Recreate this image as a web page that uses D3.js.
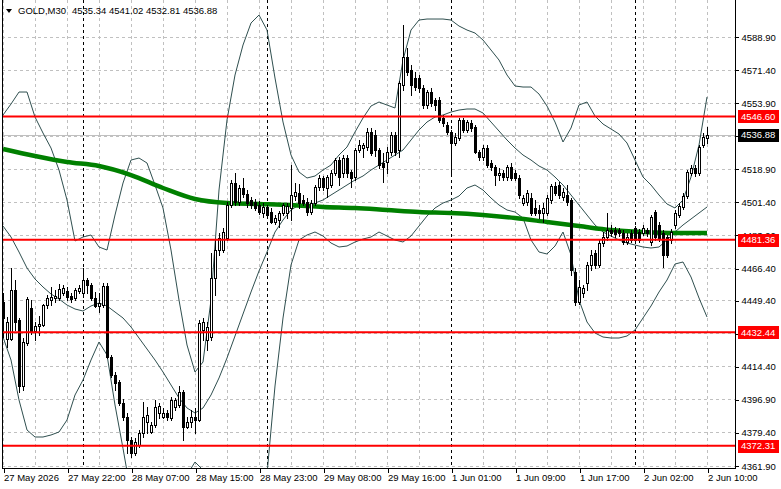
<!DOCTYPE html>
<html><head><meta charset="utf-8">
<script src="https://cdn.jsdelivr.net/npm/d3@7"></script>
<style>
html,body{margin:0;padding:0;background:#fff;}
svg{display:block;font-family:"Liberation Sans",Arial,sans-serif;}
</style></head><body>
<svg id="c" width="781" height="489"></svg>
<script>
const symbol = "GOLD,M30";
const headerOHLC = [4535.34, 4541.02, 4532.81, 4536.88];

const opens = [4448.4,4428.8,4428.8,4454.8,4438.9,4404.0,4426.7,4445.2,4433.1,4435.7,4436.2,4446.8,4449.5,4450.5,4450.5,4453.2,4454.2,4451.6,4450.5,4454.2,4453.2,4460.1,4457.4,4450.5,4446.3,4446.8,4456.9,4419.3,4409.8,4406.1,4395.0,4387.6,4375.4,4368.5,4372.7,4379.1,4384.9,4379.6,4383.3,4389.7,4387.6,4389.7,4387.0,4392.9,4393.9,4400.8,4382.3,4384.9,4387.6,4386.0,4433.6,4428.3,4429.9,4461.1,4475.9,4475.9,4482.3,4499.7,4511.4,4501.3,4508.7,4505.6,4502.4,4501.3,4499.7,4495.5,4498.7,4496.0,4490.7,4491.8,4495.5,4495.5,4498.2,4504.5,4506.1,4502.4,4501.3,4496.0,4500.8,4509.3,4514.0,4508.7,4510.3,4516.7,4523.5,4516.7,4524.6,4517.2,4514.6,4528.8,4529.9,4530.4,4538.4,4536.8,4528.8,4522.0,4522.5,4527.8,4536.8,4528.8,4563.2,4578.0,4571.2,4566.9,4566.9,4561.6,4552.6,4559.5,4555.3,4555.3,4545.8,4542.1,4538.4,4532.5,4535.2,4544.7,4539.4,4543.1,4541.0,4527.8,4525.1,4529.9,4522.0,4519.8,4515.6,4516.7,4514.6,4519.8,4516.7,4514.0,4500.8,4501.3,4503.4,4498.2,4497.1,4495.5,4495.5,4502.4,4509.8,4510.3,4504.0,4505.0,4502.4,4464.3,4448.4,4453.2,4458.5,4468.0,4474.3,4468.0,4479.6,4482.8,4486.5,4486.5,4486.5,4484.9,4480.2,4484.9,4487.6,4485.4,4484.9,4486.5,4480.2,4496.0,4489.2,4484.9,4482.8,4481.2,4489.2,4494.4,4498.7,4504.5,4516.7,4519.3,4516.7,4531.5,4535.34];
const highs = [4453.2,4440.5,4466.4,4460.1,4439.9,4429.4,4451.1,4449.5,4437.8,4441.0,4447.4,4452.1,4456.3,4454.8,4457.9,4457.4,4456.3,4453.2,4455.8,4457.4,4466.4,4461.1,4458.5,4453.7,4453.2,4458.5,4458.5,4420.4,4411.4,4407.1,4397.1,4389.7,4377.0,4376.4,4380.7,4395.5,4392.9,4384.9,4396.6,4395.0,4392.3,4391.3,4398.2,4397.6,4404.0,4401.9,4387.6,4391.3,4392.3,4438.9,4439.9,4437.8,4474.3,4481.2,4484.9,4487.6,4501.3,4513.0,4516.7,4510.3,4514.0,4507.7,4504.0,4502.9,4501.9,4500.8,4499.7,4498.2,4494.4,4496.6,4500.8,4500.8,4520.9,4511.4,4510.8,4505.0,4503.4,4502.4,4510.3,4515.6,4515.1,4515.6,4518.2,4524.6,4525.1,4526.2,4526.2,4518.2,4529.9,4534.1,4532.5,4540.5,4540.5,4539.4,4529.9,4527.2,4530.4,4538.4,4538.4,4565.3,4595.0,4582.8,4573.8,4570.1,4568.5,4563.2,4560.6,4561.6,4556.4,4556.9,4547.4,4543.7,4539.4,4537.8,4545.8,4545.8,4544.7,4544.7,4542.1,4528.8,4531.5,4531.5,4523.5,4520.9,4519.3,4518.3,4520.9,4522.0,4518.3,4515.6,4505.0,4507.7,4506.1,4502.4,4499.7,4500.8,4505.0,4510.8,4511.9,4511.9,4508.7,4510.3,4503.4,4466.4,4460.1,4457.4,4469.6,4475.9,4475.9,4481.2,4485.4,4495.5,4489.2,4488.1,4487.6,4486.5,4484.9,4486.5,4488.6,4487.0,4489.2,4487.6,4494.4,4497.1,4490.7,4486.5,4483.9,4487.0,4497.1,4500.8,4506.1,4518.3,4520.9,4520.9,4531.5,4537.8,4541.02];
const lows = [4429.9,4424.6,4428.3,4433.6,4400.8,4401.9,4425.7,4431.5,4428.3,4430.9,4435.7,4445.2,4446.8,4448.4,4449.5,4452.1,4449.5,4448.4,4449.5,4453.2,4451.1,4453.2,4449.5,4445.8,4443.1,4445.8,4418.8,4408.7,4401.9,4393.9,4386.0,4368.5,4366.4,4367.5,4371.7,4377.0,4379.1,4379.1,4382.3,4387.0,4387.0,4386.0,4386.0,4391.3,4392.9,4375.4,4381.7,4382.3,4379.1,4385.5,4428.3,4423.0,4428.3,4452.1,4473.3,4474.9,4481.2,4498.7,4499.7,4499.7,4504.0,4498.7,4498.2,4497.1,4495.0,4493.4,4492.9,4490.2,4489.7,4488.1,4494.4,4492.9,4491.8,4502.4,4498.2,4499.7,4494.4,4495.0,4499.7,4507.7,4507.7,4504.0,4509.3,4515.6,4510.3,4514.6,4514.6,4509.3,4513.0,4527.8,4525.1,4528.8,4526.2,4525.7,4519.3,4511.9,4516.7,4526.2,4526.2,4525.1,4560.6,4568.5,4557.9,4560.6,4559.5,4551.1,4551.1,4552.1,4550.0,4543.7,4541.5,4537.3,4516.7,4531.5,4534.1,4538.4,4538.4,4538.9,4527.2,4523.5,4523.5,4519.8,4518.3,4510.3,4513.0,4513.0,4513.0,4513.0,4513.0,4503.4,4499.7,4499.7,4494.4,4494.4,4492.9,4490.7,4494.4,4500.8,4505.0,4503.4,4502.4,4499.7,4462.7,4446.8,4447.4,4451.1,4454.8,4465.3,4466.4,4466.9,4478.0,4481.2,4483.3,4482.8,4483.3,4479.1,4479.1,4480.2,4479.6,4480.2,4483.9,4483.3,4478.6,4481.2,4480.7,4466.9,4472.2,4479.6,4487.6,4493.4,4497.6,4503.4,4515.6,4515.1,4515.6,4530.4,4532.81];
const closes = [4439.9,4437.8,4454.8,4437.8,4404.0,4427.3,4450.0,4432.5,4435.7,4436.8,4446.8,4450.5,4451.1,4451.6,4455.3,4455.8,4451.1,4450.0,4454.8,4455.8,4460.1,4457.4,4450.5,4446.3,4447.9,4456.9,4419.3,4409.8,4405.6,4395.0,4387.6,4375.4,4368.5,4374.3,4379.1,4387.6,4388.6,4383.3,4392.9,4393.4,4389.7,4387.6,4396.6,4396.6,4400.8,4382.3,4384.9,4387.6,4386.0,4437.3,4437.8,4435.2,4461.1,4475.9,4482.3,4485.4,4499.7,4511.4,4501.3,4508.7,4505.6,4500.8,4499.7,4498.2,4496.0,4498.7,4494.4,4490.7,4492.9,4495.5,4499.7,4499.2,4505.0,4506.6,4500.8,4500.8,4496.0,4500.8,4509.3,4514.0,4509.3,4514.6,4516.7,4523.5,4514.6,4524.6,4516.7,4514.0,4528.8,4531.5,4531.5,4538.4,4527.2,4528.8,4520.9,4519.8,4527.8,4536.8,4527.8,4564.3,4578.0,4570.1,4563.2,4562.2,4561.6,4552.6,4559.5,4553.7,4552.6,4544.7,4543.1,4538.4,4532.5,4535.7,4544.7,4539.4,4543.7,4540.5,4527.8,4525.1,4529.9,4520.9,4519.8,4515.6,4516.7,4514.6,4519.8,4514.0,4514.0,4505.0,4503.4,4506.1,4495.5,4495.5,4495.5,4498.2,4503.4,4509.8,4506.1,4505.0,4506.6,4501.3,4465.3,4448.4,4456.4,4455.8,4468.0,4473.3,4468.0,4479.6,4482.8,4486.5,4484.9,4484.4,4484.9,4480.2,4482.8,4481.2,4481.2,4481.2,4487.6,4484.9,4493.4,4482.8,4482.3,4473.3,4473.3,4485.4,4495.5,4499.2,4504.5,4517.2,4519.3,4516.7,4530.4,4535.7,4536.88];

// Bollinger bands, one value every 2 bars
const bandStep = 2;
const bandUpper = [4547.35,4553.17,4559.52,4559.52,4546.30,4537.83,4529.89,4518.25,4502.38,4480.69,4482.80,4483.86,4477.51,4475.92,4494.44,4511.37,4523.54,4524.60,4521.96,4510.32,4498.15,4475.92,4449.47,4425.66,4411.37,4416.66,4449.47,4507.67,4544.71,4568.52,4584.39,4596.03,4600.26,4592.33,4566.93,4543.65,4526.19,4517.19,4514.02,4515.08,4518.25,4520.90,4526.19,4530.42,4538.36,4545.77,4552.12,4554.24,4552.64,4551.06,4576.45,4592.33,4597.62,4598.15,4598.15,4598.15,4597.62,4594.44,4592.33,4590.74,4587.04,4581.75,4576.45,4568.52,4562.70,4562.17,4562.17,4558.46,4552.12,4543.65,4533.07,4540.48,4552.64,4554.24,4546.82,4542.59,4539.95,4537.30,4532.54,4523.54,4514.55,4510.32,4505.03,4500.27,4498.15,4502.38,4514.55,4531.48,4556.88];
const bandMiddle = [4488.62,4482.80,4474.87,4466.40,4460.58,4456.35,4452.65,4450.00,4446.82,4444.71,4443.65,4446.30,4447.88,4446.30,4443.12,4439.95,4435.18,4429.36,4423.54,4417.72,4411.37,4404.50,4397.62,4392.33,4389.68,4392.33,4399.21,4408.20,4418.78,4430.42,4442.06,4453.70,4464.81,4474.87,4485.45,4491.80,4497.09,4499.73,4499.73,4500.79,4502.38,4505.03,4507.67,4510.32,4512.96,4515.08,4518.25,4520.90,4523.54,4526.19,4528.83,4534.13,4539.42,4543.65,4546.30,4547.35,4548.94,4550.00,4550.53,4550.53,4548.41,4543.65,4538.89,4534.13,4529.89,4526.19,4523.54,4520.37,4518.25,4514.55,4510.32,4505.03,4499.73,4494.44,4489.15,4485.45,4483.33,4481.22,4479.63,4478.57,4477.51,4476.98,4477.51,4481.22,4485.45,4489.15,4492.33,4495.50,4498.68];
const bandLower = [4429.89,4417.72,4396.56,4380.69,4376.98,4376.98,4378.04,4379.63,4385.98,4399.21,4407.14,4417.72,4427.25,4420.37,4393.91,4370.96,4346.82,4334.12,4325.13,4325.13,4324.60,4333.07,4345.77,4356.88,4363.76,4359.52,4348.94,4308.73,4292.86,4292.33,4299.74,4311.38,4329.36,4357.41,4403.97,4439.95,4467.99,4481.22,4483.86,4485.45,4483.33,4479.63,4477.51,4478.04,4480.16,4481.74,4482.80,4485.45,4483.33,4481.22,4480.16,4483.33,4488.62,4493.91,4498.15,4500.79,4502.38,4504.50,4508.73,4510.32,4507.67,4503.44,4499.73,4497.09,4496.03,4492.86,4481.22,4474.87,4473.81,4478.04,4485.45,4473.28,4449.47,4437.83,4432.01,4429.89,4429.36,4429.36,4430.42,4433.60,4439.95,4446.30,4453.70,4460.05,4468.52,4469.58,4461.64,4450.53,4440.48];

// Moving average, one value every 8 bars
const maStep = 8;
const movingAvg = [4529.36,4525.66,4522.49,4520.37,4515.61,4508.73,4502.91,4500.79,4500.27,4499.73,4498.68,4498.15,4497.09,4496.03,4495.50,4494.44,4492.86,4490.74,4488.62,4486.51,4485.45,4484.92,4484.92];

const priceTicks = [4588.90,4571.40,4553.90,4536.40,4518.90,4501.40,4483.90,4466.40,4449.40,4431.90,4414.40,4396.90,4379.40,4361.90];
const hiddenTickLabels = [4536.40,4431.90];
const levels = [4546.60,4481.36,4432.44,4372.31];
const lastPrice = 4536.88;
const timeTickBars = [0,16,32,48,64,80,96,112,128,144,160,176];
const timeTickLabels = ["27 May 2026","27 May 22:00","28 May 07:00","28 May 15:00","28 May 23:00","29 May 08:00","29 May 16:00","1 Jun 01:00","1 Jun 09:00","1 Jun 17:00","2 Jun 02:00","2 Jun 10:00"];
const daySeparatorBars = [20,66,112,158];

const n = closes.length;
const L = 2, R = 735, B = 468;
const FS = "9.5px";
const FF = "Liberation Sans, Arial, sans-serif";
const svg = d3.select("#c");
const x = d3.scaleLinear().domain([0, n - 1]).range([3, 707]);
const y = d3.scaleLinear().domain([4361.9, 4588.9]).range([465.5, 36.5]);
const px = v => Math.round(x(v));
const py = v => Math.round(y(v));
const f2 = d3.format(".2f");

svg.append("rect").attr("width",781).attr("height",489).attr("fill","#fff");
svg.append("defs").append("clipPath").attr("id","clip")
  .append("rect").attr("x",L).attr("y",0).attr("width",R-L).attr("height",B);

const plot = svg.append("g").attr("clip-path","url(#clip)");
const grid = plot.append("g").attr("shape-rendering","crispEdges");
grid.selectAll("line.h").data(priceTicks).join("line")
  .attr("x1",L).attr("x2",R).attr("y1",d=>py(d)+0.5).attr("y2",d=>py(d)+0.5)
  .attr("stroke","#c0c0c0").attr("stroke-dasharray","3,3");
grid.selectAll("line.v").data(d3.range(0, n, 8)).join("line")
  .attr("x1",d=>px(d)+0.5).attr("x2",d=>px(d)+0.5).attr("y1",0).attr("y2",B)
  .attr("stroke","#c0c0c0").attr("stroke-dasharray","3,3");
grid.selectAll("line.s").data(daySeparatorBars).join("line")
  .attr("x1",d=>px(d)+0.5).attr("x2",d=>px(d)+0.5).attr("y1",0).attr("y2",B)
  .attr("stroke","#000").attr("stroke-dasharray","3,3");
grid.append("line").attr("x1",L).attr("x2",R)
  .attr("y1",py(lastPrice)+0.5).attr("y2",py(lastPrice)+0.5).attr("stroke","#c0c0c0");

const bandLine = d3.line().x((d,i)=>x(i*bandStep)).y(d=>y(d));
[bandUpper, bandMiddle, bandLower].forEach(b=>{
  plot.append("path").attr("d",bandLine(b)).attr("fill","none")
    .attr("stroke","#2f4f4f").attr("stroke-width",1);
});
const maLine = d3.line().x((d,i)=>x(i*maStep)).y(d=>y(d)).curve(d3.curveMonotoneX);
plot.append("path").attr("d",maLine(movingAvg)).attr("fill","none")
  .attr("stroke","#008000").attr("stroke-width",4.5);

const cg = plot.append("g").attr("shape-rendering","crispEdges");
d3.range(n).forEach(i=>{
  const cx = px(i);
  const o=opens[i], h=highs[i], l=lows[i], c=closes[i];
  const yh = py(h), yl = py(l);
  cg.append("rect").attr("x",cx).attr("y",yh).attr("width",1).attr("height",Math.max(1,yl-yh+1)).attr("fill","#000");
  const top = py(Math.max(o,c)), bot = py(Math.min(o,c));
  cg.append("rect").attr("x",cx-1).attr("y",top).attr("width",3).attr("height",Math.max(1,bot-top+1)).attr("fill","#000");
  if (c > o && bot - top - 1 > 0) {
    cg.append("rect").attr("x",cx).attr("y",top+1).attr("width",1).attr("height",bot-top-1).attr("fill","#fff");
  }
});

plot.append("g").selectAll("line").data(levels).join("line")
  .attr("x1",L).attr("x2",R).attr("y1",d=>y(d)).attr("y2",d=>y(d))
  .attr("stroke","#ff0000").attr("stroke-width",2);

const fr = svg.append("g").attr("shape-rendering","crispEdges");
fr.append("line").attr("x1",L+0.5).attr("x2",L+0.5).attr("y1",0).attr("y2",B+1).attr("stroke","#000");
fr.append("line").attr("x1",R+0.5).attr("x2",R+0.5).attr("y1",0).attr("y2",B+1).attr("stroke","#000");
fr.append("line").attr("x1",L).attr("x2",R+1).attr("y1",B+0.5).attr("y2",B+0.5).attr("stroke","#000");

const yAxis = d3.axisRight(y).tickValues(priceTicks).tickSize(3).tickPadding(3)
  .tickFormat(d => hiddenTickLabels.includes(d) ? "" : f2(d));
const ya = svg.append("g").attr("transform",`translate(${R+0.5},0.5)`).call(yAxis);
ya.select(".domain").remove();
ya.selectAll("line").attr("stroke","#000").attr("shape-rendering","crispEdges");
ya.selectAll("text").attr("font-size",FS).attr("font-family",FF).attr("fill","#000");

const xAxis = d3.axisBottom(x).tickValues(timeTickBars).tickSize(4).tickPadding(2)
  .tickFormat((d,i)=>timeTickLabels[i]);
const xa = svg.append("g").attr("transform",`translate(0.5,${B+0.5})`).call(xAxis);
xa.select(".domain").remove();
xa.selectAll("line").attr("stroke","#000").attr("shape-rendering","crispEdges");
xa.selectAll("text").attr("font-size",FS).attr("font-family",FF)
  .attr("fill","#000").attr("text-anchor","start").attr("x",0);

const lab = svg.append("g");
function priceTag(v, color){
  const yy = y(v);
  lab.append("rect").attr("x",738).attr("y",Math.round(yy)-6).attr("width",41).attr("height",13).attr("fill",color);
  lab.append("text").attr("x",741).attr("y",yy).attr("dy","0.36em").attr("font-size",FS).attr("font-family",FF)
    .attr("fill","#fff").text(f2(v));
}
levels.forEach(v=>priceTag(v,"#ff0000"));
priceTag(lastPrice,"#000");

svg.append("path").attr("d","M6,9L12,9L9,13Z").attr("fill","#000");
svg.append("text").attr("x",18).attr("y",14).attr("font-size",FS).attr("font-family",FF).attr("fill","#000").text(symbol);
svg.append("text").attr("x",72).attr("y",14).attr("font-size",FS).attr("font-family",FF).attr("fill","#000")
  .text(headerOHLC.map(f2).join(" "));
</script>
</body></html>
